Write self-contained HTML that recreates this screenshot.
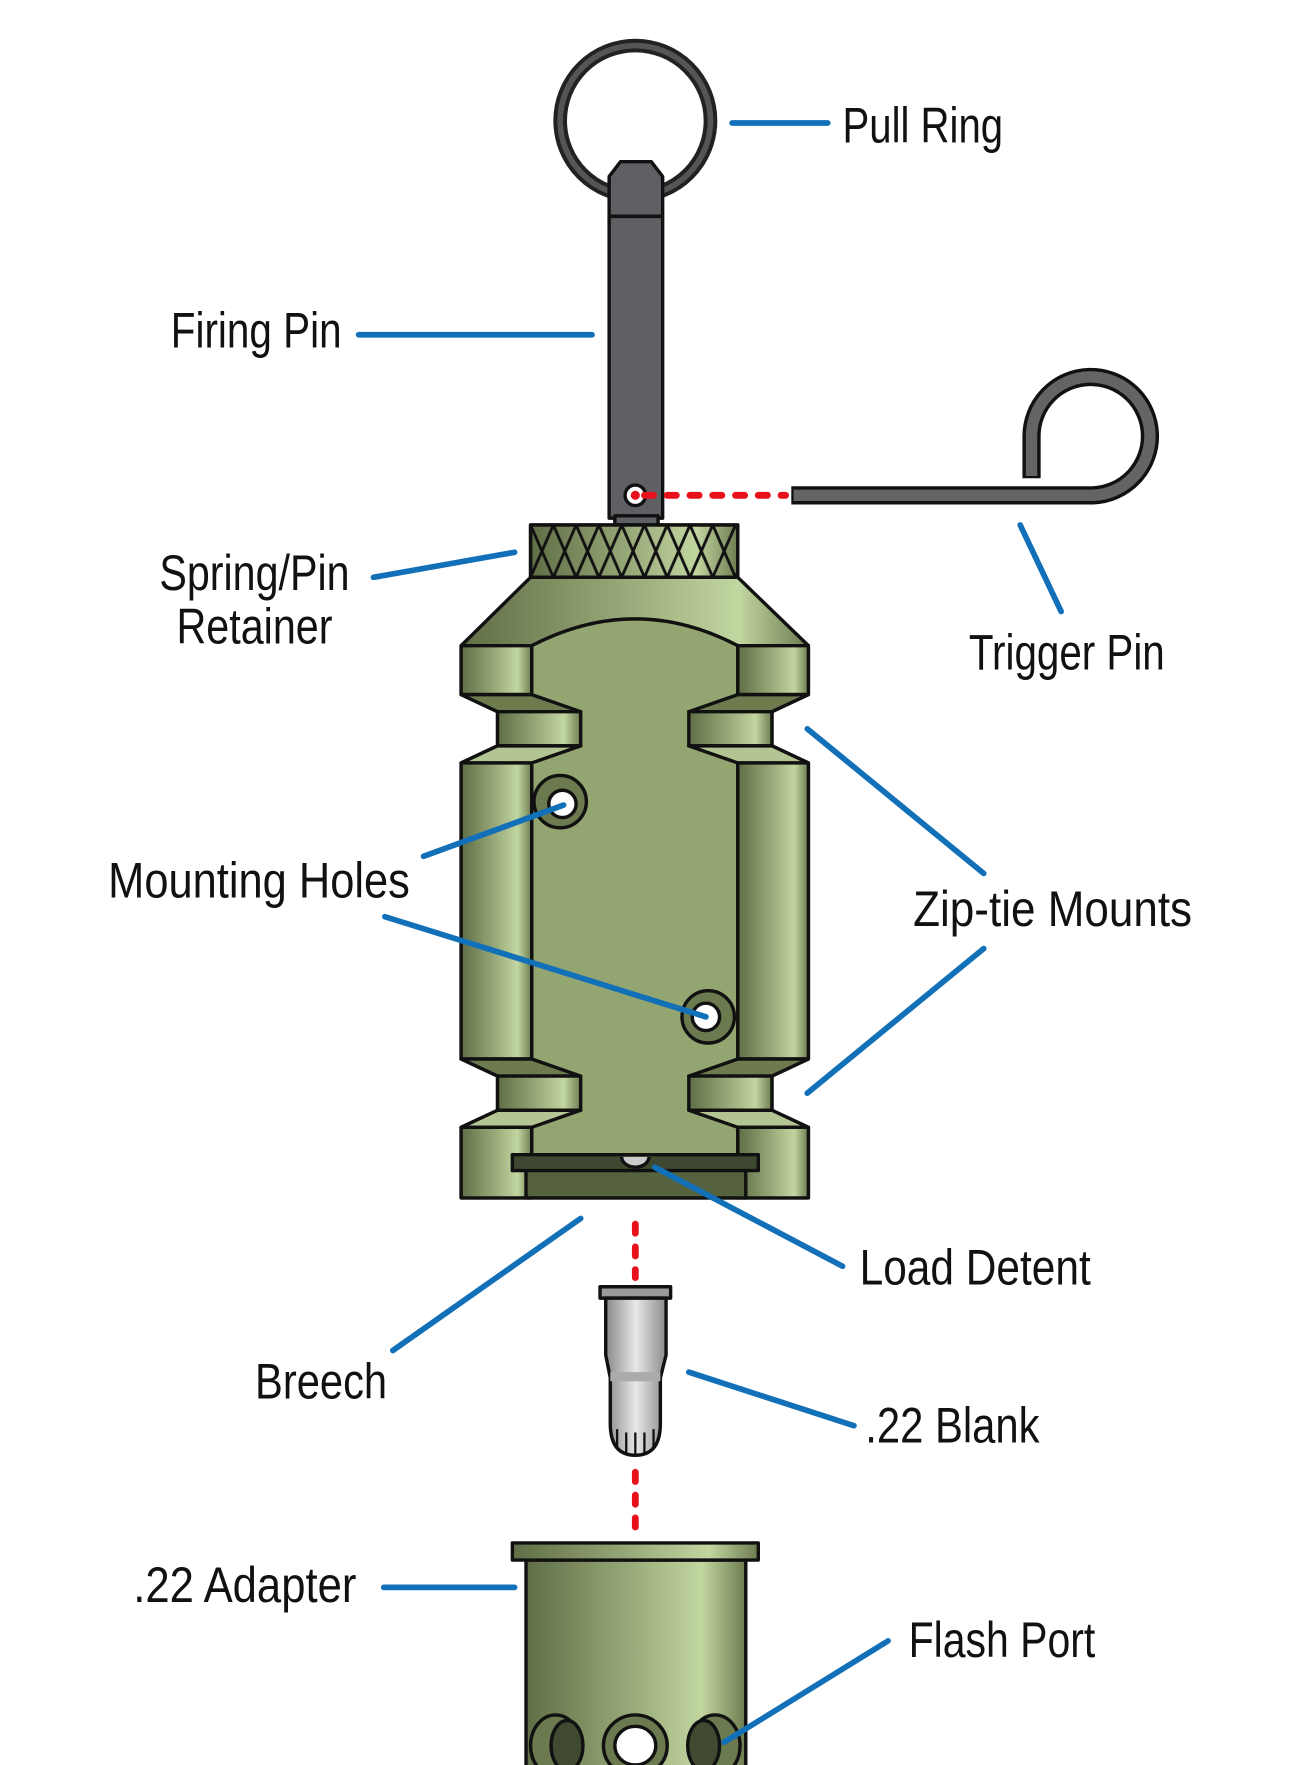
<!DOCTYPE html>
<html><head><meta charset="utf-8"><style>
html,body{margin:0;padding:0;background:#fff;}
svg{display:block;}
text{font-family:"Liberation Sans Narrow","Liberation Sans",sans-serif;font-size:44px;fill:#111;}
</style></head><body>
<svg width="1290" height="1765" viewBox="0 0 1133 1550" preserveAspectRatio="none" xmlns="http://www.w3.org/2000/svg">
<defs>
<linearGradient id="g" x1="0" x2="1" y1="0" y2="0">
<stop offset="0" stop-color="#5f6e45"/><stop offset="0.45" stop-color="#95a676"/><stop offset="0.8" stop-color="#c2d6a0"/><stop offset="1" stop-color="#6d7c50"/></linearGradient>
<linearGradient id="gs" x1="0" x2="1"><stop offset="0" stop-color="#888"/><stop offset="0.5" stop-color="#e8e8e8"/><stop offset="1" stop-color="#8a8a8a"/></linearGradient>
<pattern id="kn" width="20" height="46" patternUnits="userSpaceOnUse" x="466" y="461">
<path d="M0,0 L20,46 M20,0 L0,46" stroke="#111" stroke-width="2.5"/></pattern>
</defs>
<g stroke="#111" stroke-width="3" stroke-linejoin="round">
<!-- pull ring -->
<circle cx="558" cy="106" r="66" fill="none" stroke="#222" stroke-width="12"/>
<circle cx="558" cy="106" r="66" fill="none" stroke="#555" stroke-width="5"/>
<!-- firing pin -->
<path d="M535,190 V155 L545,142 H572 L582,155 V190 Z" fill="#5f6064"/>
<rect x="535" y="190" width="47" height="265" fill="#5f6064"/>
<rect x="540" y="453" width="38" height="8" fill="#5f6064"/>
<circle cx="558" cy="435" r="9" fill="#fff"/>
<!-- trigger pin -->
<path d="M695,435 H960 A52,52 0 1 0 906,384 V420" fill="none" stroke="#111" stroke-width="16" stroke-linejoin="miter"/>
<path d="M697,435 H960 A52,52 0 1 0 906,384 V418" fill="none" stroke="#636466" stroke-width="10" stroke-linejoin="miter"/>
<!-- knurl -->
<rect x="466" y="461" width="182" height="46" fill="url(#g)"/>
<rect x="466" y="461" width="182" height="46" fill="url(#kn)"/>
<!-- body outline -->
<path d="M466,507 H648 L710,567 V610 L678,625 V655 L710,670 V930 L678,945 V975 L710,990 V1052 H405 V990 L437,975 V945 L405,930 V670 L437,655 V625 L405,610 V567 Z" fill="url(#g)"/>
<path d="M467,567 Q558,520 648,567 V1014 H467 Z" fill="#93a571"/>
<!-- left lugs -->
<rect x="405" y="567" width="62" height="43" fill="url(#g)"/>
<path d="M405,610 H467 L510,625 H437 Z" fill="#6d7b4e"/>
<rect x="437" y="625" width="73" height="30" fill="url(#g)"/>
<path d="M405,670 H467 L510,655 H437 Z" fill="#b3c592"/>
<rect x="405" y="670" width="62" height="260" fill="url(#g)"/>
<path d="M405,930 H467 L510,945 H437 Z" fill="#6d7b4e"/>
<rect x="437" y="945" width="73" height="30" fill="url(#g)"/>
<path d="M405,990 H467 L510,975 H437 Z" fill="#b3c592"/>
<rect x="405" y="990" width="62" height="62" fill="url(#g)"/>
<!-- right lugs -->
<rect x="648" y="567" width="62" height="43" fill="url(#g)"/>
<path d="M710,610 H648 L605,625 H678 Z" fill="#6d7b4e"/>
<rect x="605" y="625" width="73" height="30" fill="url(#g)"/>
<path d="M710,670 H648 L605,655 H678 Z" fill="#b3c592"/>
<rect x="648" y="670" width="62" height="260" fill="url(#g)"/>
<path d="M710,930 H648 L605,945 H678 Z" fill="#6d7b4e"/>
<rect x="605" y="945" width="73" height="30" fill="url(#g)"/>
<path d="M710,990 H648 L605,975 H678 Z" fill="#b3c592"/>
<rect x="648" y="990" width="62" height="62" fill="url(#g)"/>
<!-- breech -->
<rect x="462" y="1014" width="193" height="38" fill="#56613d"/>
<rect x="450" y="1014" width="216" height="14" fill="#3f4830"/>
<path d="M546,1016 A12,9 0 0 0 570,1016" fill="#ccc"/>
<!-- mounting holes -->
<circle cx="492" cy="704" r="23" fill="#6c7a4f"/><circle cx="494" cy="706" r="12" fill="#fff"/>
<circle cx="622" cy="893" r="23" fill="#6c7a4f"/><circle cx="620" cy="893" r="12" fill="#fff"/>
<!-- blank -->
<rect x="527" y="1130" width="62" height="10" fill="#999"/>
<path d="M532,1140 H585 V1190 L580,1210 V1250 Q580,1278 558,1278 Q536,1278 536,1250 V1210 L532,1190 Z" fill="url(#gs)"/>
<rect x="536" y="1205" width="44" height="8" fill="#aaa" stroke="none"/>
<path d="M542,1255 V1272 M550,1258 V1277 M558,1258 V1278 M566,1258 V1277 M574,1255 V1272" stroke-width="2"/>
<!-- adapter -->
<rect x="462" y="1370" width="193" height="190" fill="url(#g)"/>
<rect x="450" y="1355" width="216" height="15" fill="url(#g)"/>
<ellipse cx="488" cy="1533" rx="22" ry="27" fill="#6c7a4f"/><ellipse cx="498" cy="1533" rx="14" ry="22" fill="#404a30"/>
<ellipse cx="558" cy="1533" rx="28" ry="27" fill="#6c7a4f"/><ellipse cx="558" cy="1533" rx="18" ry="17" fill="#fff"/>
<ellipse cx="628" cy="1533" rx="22" ry="27" fill="#6c7a4f"/><ellipse cx="618" cy="1533" rx="14" ry="22" fill="#404a30"/>
</g>
<!-- red dashes -->
<g stroke="#e8101a" stroke-width="6" stroke-linecap="round" stroke-dasharray="8,12" fill="none">
<path d="M566,435 H690"/><path d="M558,1075 V1122"/><path d="M558,1293 V1342"/>
</g>
<circle cx="558" cy="435" r="4" fill="#e8101a"/>
<!-- leaders -->
<g stroke="#1270b8" stroke-width="5" stroke-linecap="round" fill="none">
<path d="M643,108 H727"/><path d="M315,294 H520"/><path d="M328,507 L452,485"/>
<path d="M896,461 L932,537"/><path d="M372,752 L495,707"/><path d="M338,805 L620,893"/>
<path d="M709,640 L864,767"/><path d="M864,833 L709,960"/><path d="M575,1025 L740,1112"/>
<path d="M510,1070 L345,1186"/><path d="M605,1205 L750,1252"/><path d="M337,1394 H452"/>
<path d="M780,1441 L636,1530"/>
</g>
<text x="740" y="125" textLength="141" lengthAdjust="spacingAndGlyphs">Pull Ring</text>
<text x="150" y="305" textLength="150" lengthAdjust="spacingAndGlyphs">Firing Pin</text>
<text x="140" y="518" textLength="167" lengthAdjust="spacingAndGlyphs">Spring/Pin</text>
<text x="155" y="565" textLength="137" lengthAdjust="spacingAndGlyphs">Retainer</text>
<text x="851" y="588" textLength="172" lengthAdjust="spacingAndGlyphs">Trigger Pin</text>
<text x="95" y="788" textLength="265" lengthAdjust="spacingAndGlyphs">Mounting Holes</text>
<text x="802" y="813" textLength="245" lengthAdjust="spacingAndGlyphs">Zip-tie Mounts</text>
<text x="755" y="1128" textLength="203" lengthAdjust="spacingAndGlyphs">Load Detent</text>
<text x="224" y="1228" textLength="116" lengthAdjust="spacingAndGlyphs">Breech</text>
<text x="760" y="1267" textLength="153" lengthAdjust="spacingAndGlyphs">.22 Blank</text>
<text x="117" y="1407" textLength="196" lengthAdjust="spacingAndGlyphs">.22 Adapter</text>
<text x="798" y="1455" textLength="164" lengthAdjust="spacingAndGlyphs">Flash Port</text>
</svg>
</body></html>
